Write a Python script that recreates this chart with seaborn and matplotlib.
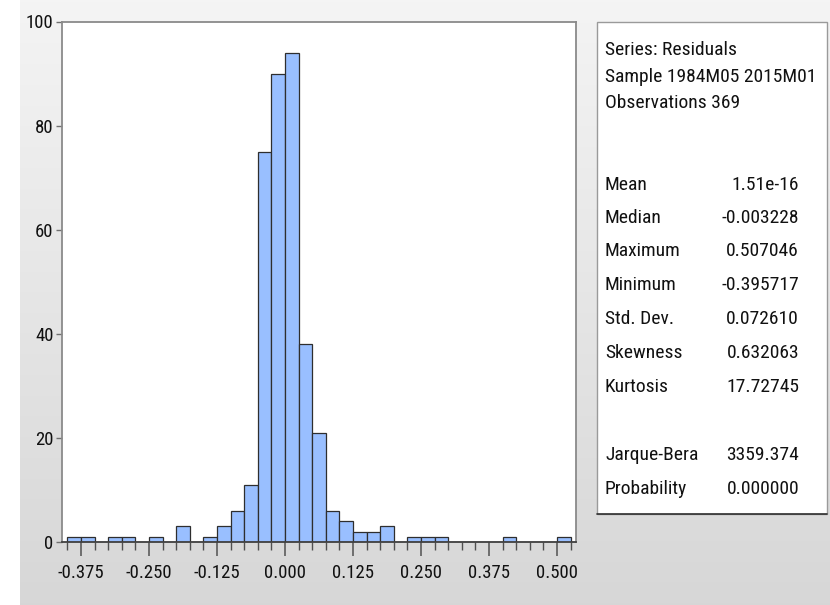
import numpy as np
import pandas as pd
import matplotlib
matplotlib.use("Agg")
import matplotlib.pyplot as plt
from matplotlib import font_manager
from matplotlib.patches import Rectangle
from matplotlib.lines import Line2D
import seaborn as sns

# Residual histogram: bins of width 0.025 starting at -0.400
bin_start = -0.400
bin_width = 0.025
counts = [1, 1, 0, 1, 1, 0, 1, 0, 3, 0,
          1, 3, 6, 11, 75, 90, 94, 38, 21, 6,
          4, 2, 2, 3, 0, 1, 1, 1, 0, 0,
          0, 0, 1, 0, 0, 0, 1]

major_ticks = [-0.375, -0.250, -0.125, 0.000, 0.125, 0.250, 0.375, 0.500]
major_labels = ["-0.375", "-0.250", "-0.125", "0.000", "0.125", "0.250", "0.375", "0.500"]
y_ticks = [0, 20, 40, 60, 80, 100]

header_lines = ["Series: Residuals", "Sample 1984M05 2015M01", "Observations 369"]
stat_names = ["Mean", "Median", "Maximum", "Minimum", "Std. Dev.", "Skewness", "Kurtosis"]
stat_values = ["1.51e-16", "-0.003228", "0.507046", "-0.395717", "0.072610", "0.632063", "17.72745"]
test_names = ["Jarque-Bera", "Probability"]
test_values = ["3359.374", "0.000000"]

sns.set_theme(style="white")
available = {f.name for f in font_manager.fontManager.ttflist}
family = "DejaVu Sans"
for cand in ["Liberation Sans Narrow", "Arial Narrow", "Roboto Condensed", "Liberation Sans"]:
    if cand in available:
        family = cand
        break
plt.rcParams["font.family"] = [family, "DejaVu Sans"]

W, H = 830, 605
fig = plt.figure(figsize=(W / 100, H / 100), dpi=100)
fig.patch.set_facecolor("white")

def fx(px):
    return px / W

def fy(py):
    return 1 - py / H

# grey vertical gradient panel behind everything
bg = fig.add_axes([fx(20), 0, 1 - fx(20), 1], zorder=-10)
grad = np.linspace(0, 1, 256).reshape(-1, 1)
top_c = np.array([0.957, 0.957, 0.957])
bot_c = np.array([0.843, 0.843, 0.843])
img = top_c + (bot_c - top_c) * grad[:, :, None]
bg.imshow(img, aspect="auto", extent=[0, 1, 0, 1], origin="upper")
bg.set_axis_off()

ax = fig.add_axes([fx(62), fy(542), fx(576) - fx(62), fy(21.5) - fy(542)])
ax.set_facecolor("white")

n_bins = len(counts)
edges = bin_start + bin_width * np.arange(n_bins + 1)
centers = edges[:-1] + bin_width / 2
df = pd.DataFrame({"residual": centers, "count": counts})
sns.histplot(data=df, x="residual", weights="count", binwidth=bin_width,
             binrange=(edges[0], edges[-1]), ax=ax,
             color="#99bfff", edgecolor="#2e2e2e", linewidth=0.9, alpha=1.0)

ax.set_xlim(-0.41, 0.535)
ax.set_ylim(0, 100)
ax.set_xlabel("")
ax.set_ylabel("")
ax.set_xticks(major_ticks)
ax.set_xticklabels(major_labels)
ax.set_xticks(edges, minor=True)
ax.set_yticks(y_ticks)
ax.tick_params(axis="x", which="major", direction="out", length=10, width=1.1,
               color="#505050", labelsize=13.5, pad=6, bottom=True, labelcolor="#111111")
ax.tick_params(axis="x", which="minor", direction="out", length=5.5, width=1.0,
               color="#505050", bottom=True)
ax.tick_params(axis="y", direction="out", length=4, width=1.0, color="#707070",
               labelsize=13.5, pad=2, left=True, labelcolor="#111111")
for side in ["top", "right", "left"]:
    ax.spines[side].set_color("#8a8a8a")
    ax.spines[side].set_linewidth(1.3)
ax.spines["bottom"].set_color("#404040")
ax.spines["bottom"].set_linewidth(1.3)

# statistics panel
box = Rectangle((fx(597), fy(514)), fx(827) - fx(597), fy(22) - fy(514),
                transform=fig.transFigure, facecolor="white", edgecolor="#9a9a9a",
                linewidth=1.0, zorder=1)
fig.patches.append(box)
fig.lines.append(Line2D([fx(597), fx(827)], [fy(514), fy(514)], transform=fig.transFigure,
                        color="#303030", linewidth=1.2, zorder=2))

fs = 14
xl, xr = fx(605), fx(799)
for txt, py in zip(header_lines, [50, 76.7, 103]):
    fig.text(xl, fy(py), txt, ha="left", va="center", fontsize=fs, color="#111111")
for name, val, py in zip(stat_names, stat_values, [185, 218, 251.5, 285, 319, 353, 386.5]):
    fig.text(xl, fy(py), name, ha="left", va="center", fontsize=fs, color="#111111")
    fig.text(xr, fy(py), val, ha="right", va="center", fontsize=fs, color="#111111")
for name, val, py in zip(test_names, test_values, [455, 488.5]):
    fig.text(xl, fy(py), name, ha="left", va="center", fontsize=fs, color="#111111")
    fig.text(xr, fy(py), val, ha="right", va="center", fontsize=fs, color="#111111")

fig.savefig("out.png", dpi=100)
